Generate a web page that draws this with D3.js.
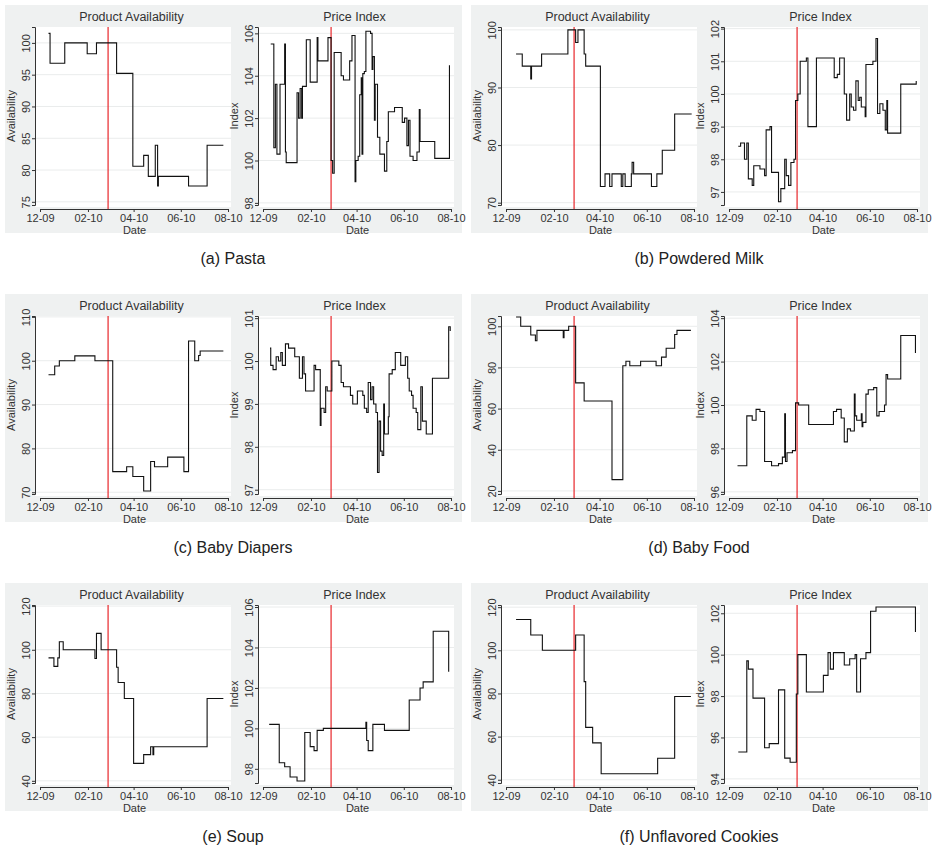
<!DOCTYPE html>
<html>
<head>
<meta charset="utf-8">
<script src="https://cdn.jsdelivr.net/npm/d3@7"></script>
<style>
body { margin:0; background:#fff; font-family:"Liberation Sans", Arial, sans-serif; }
</style>
</head>
<body>
<svg id="chart" width="932" height="850"></svg>
<script>
// days are counted from 2009-12-01
const startDate = new Date(2009, 11, 1)
const tickDays = [0, 62, 121, 182, 243]
const tickLabels = ["12-09", "02-10", "04-10", "06-10", "08-10"]
const eventDay = 88

const captions = ["(a)  Pasta", "(b)  Powdered Milk", "(c)  Baby Diapers", "(d)  Baby Food", "(e)  Soup", "(f)  Unflavored Cookies"]

// [day, value]
const pastaAvail = [[11,101.5],[13,96.8],[32,100],[61,98.3],[73,100],[99,95.2],[120,80.6],[134,82.3],[140,79],[149,83.9],[152,77.5],[153,79],[192,77.5],[216,83.9],[237,83.9]]
const pastaPrice = [[10,105.5],[14,100.6],[16,103.6],[18,100.3],[21,100.3],[22,103.6],[28,105.5],[29,100.4],[30,99.9],[43,99.9],[44,103.2],[46,102],[48,103.4],[50,102],[51,103.5],[55,103.5],[56,105.7],[61,103.7],[68,103.7],[70,105.8],[71,104.7],[83,104.7],[84,105.8],[87,105.8],[88,100],[90,99.4],[92,105.1],[99,105.1],[101,104],[104,103.8],[111,103.8],[112,104.7],[115,105.9],[118,105.9],[119,99],[120,100],[123,100.2],[125,103.1],[127,103.9],[128,100.3],[129,104.1],[131,104.2],[133,106.1],[139,106],[141,104.3],[142,104.9],[144,101.9],[145,103.6],[148,101.1],[151,100.3],[156,100.3],[157,99.5],[160,100.9],[162,102.3],[167,102.3],[170,102.5],[177,102.5],[180,101.8],[183,102],[186,100.7],[188,101.9],[190,100.2],[194,100],[199,100.4],[202,102.4],[203,100.9],[220,100.9],[222,100.1],[240,100.1],[241,104.5]]

const milkAvail = [[13,95.8],[21,93.7],[32,91.5],[33,93.7],[46,95.8],[80,100],[90,97.8],[93,100],[101,95.8],[103,93.7],[122,72.8],[128,75],[134,72.8],[137,75],[149,72.8],[151,75],[154,72.8],[162,75],[163,77],[165,75],[188,72.8],[195,75],[202,79.1],[218,85.4],[240,85.4]]
const milkPrice = [[12,98.4],[15,98.5],[20,98],[23,98.5],[25,97.4],[30,97.2],[32,97.8],[40,97.7],[46,97.5],[48,98.9],[53,99],[55,97.6],[64,96.7],[67,97.1],[71,97.1],[72,98],[74,97.5],[77,97.2],[80,97.9],[84,98],[86,99.8],[89,100],[92,101],[100,101.1],[102,99],[112,99],[113,101.1],[134,101.1],[136,100.5],[140,100.6],[143,101.1],[149,100],[152,99.2],[156,100],[158,99.6],[161,99.5],[164,100.4],[167,99.8],[169,99.9],[171,99.6],[176,99.3],[177,100.9],[186,101],[190,101.7],[192,99.4],[195,99.7],[199,99.5],[202,98.9],[204,99.8],[205,98.8],[222,100.3],[241,100.3],[242,100.4]]

const diapersAvail = [[11,96.8],[19,98.8],[25,100],[45,101.1],[71,100],[94,74.7],[112,75.8],[120,73.6],[134,70.3],[143,77],[148,75.8],[165,78],[186,74.7],[192,104.5],[200,100],[205,101.2],[207,102.2],[237,102.2]]
const diapersPrice = [[9,100.3],[10,99.9],[13,99.8],[17,100.1],[20,100],[23,100.2],[25,99.9],[29,100.4],[33,100.3],[39,100.3],[41,100.1],[44,100.1],[47,99.6],[51,100.1],[53,99.7],[55,99.3],[65,99.3],[66,99.9],[68,99.8],[73,99.8],[74,98.5],[75,98.9],[79,98.8],[81,99.4],[83,99.3],[87,99.3],[89,100],[94,100],[98,99.9],[101,99.5],[104,99.4],[110,99.4],[113,99.2],[116,99],[120,99],[122,99.3],[129,99.2],[131,98.9],[134,98.8],[136,99.5],[139,99.1],[141,99.4],[143,99],[146,98.8],[148,97.4],[150,98.6],[152,97.9],[154,97.8],[156,99],[157,98.3],[162,98.7],[163,99.7],[167,99.8],[171,100.2],[177,100.2],[178,99.9],[181,99.9],[184,100.1],[187,99.6],[189,99.3],[192,99.2],[194,98.9],[198,98.8],[200,98.4],[204,99.4],[206,98.6],[211,98.3],[219,99.6],[240,100.8],[242,100.7]]

const babyFoodAvail = [[13,104.5],[19,100],[32,95.8],[38,93],[40,98],[73,98],[74,94.5],[75,98],[81,100],[90,72.5],[101,63.7],[137,25.5],[151,80.8],[155,83],[160,80.8],[174,83],[194,80.8],[201,85],[207,89.3],[218,96],[221,98],[239,98]]
const babyFoodPrice = [[11,97.2],[23,99.5],[30,99.3],[35,99.8],[40,99.7],[46,97.4],[55,97.2],[64,97.3],[69,97.6],[72,99.6],[73,97.4],[75,97.8],[82,97.9],[86,100.1],[90,100],[103,99.1],[134,99.1],[135,99.7],[139,99.8],[145,99.4],[149,98.3],[153,98.9],[157,98.8],[162,100.5],[163,99.5],[165,99.3],[171,99.6],[172,99],[173,99.2],[177,100.5],[180,100.7],[187,100.8],[191,99.5],[194,99.7],[201,100],[203,101.4],[205,101.2],[222,103.2],[240,103.2],[241,102.4]]

const soupAvail = [[11,96.3],[18,92.4],[23,96.3],[25,103.7],[30,100],[71,96],[73,107.5],[79,100],[99,92],[101,85],[109,77.7],[121,48],[134,52],[143,55.6],[146,52],[147,55.6],[216,77.7],[237,77.7]]
const soupPrice = [[8,100.2],[21,98.3],[28,98.1],[35,97.6],[44,97.4],[54,99.8],[61,99.1],[66,98.9],[70,99.9],[78,100],[133,100.3],[134,99.4],[136,98.9],[142,100.2],[157,99.9],[189,101.4],[203,102],[207,102.3],[220,104.8],[239,104.8],[240,102.8]]

const cookiesAvail = [[13,114.3],[32,107.1],[47,100],[90,107.1],[101,85.5],[103,64.3],[112,57.1],[123,42.8],[196,50],[218,78.6],[239,78.6]]
const cookiesPrice = [[12,95.3],[23,99.7],[25,99.3],[31,97.9],[46,95.5],[52,95.7],[64,98.3],[72,95],[79,94.8],[87,98.1],[89,100],[100,98.2],[122,99],[128,100.1],[131,99.3],[135,100.1],[149,99.5],[156,99.8],[163,100],[165,98.2],[170,99.8],[177,100.1],[183,102.1],[190,102.3],[240,102.3],[241,101.1]]

const availSeries = [pastaAvail, milkAvail, diapersAvail, babyFoodAvail, soupAvail, cookiesAvail]
const priceSeries = [pastaPrice, milkPrice, diapersPrice, babyFoodPrice, soupPrice, cookiesPrice]
const availDomains = [[74.5,102.5],[69.6,100.5],[69.6,110.2],[18.5,105],[39,120.5],[38.5,121]]
const priceDomains = [[97.9,106.3],[96.6,102.05],[96.9,101.05],[95.9,104.1],[97.3,106.1],[93.8,102.4]]
const availTicks = [[75,80,85,90,95,100],[70,80,90,100],[70,80,90,100,110],[20,40,60,80,100],[40,60,80,100,120],[40,60,80,100,120]]
const priceTicks = [[98,100,102,104,106],[97,98,99,100,101,102],[97,98,99,100,101],[96,98,100,102,104],[98,100,102,104,106],[94,96,98,100,102]]

const svg = d3.select("#chart")
const panelPos = [[5,5],[471,5],[5,294],[471,294],[5,583],[471,583]]
const dayDate = d => d3.timeDay.offset(startDate, d)
const txt = "#333"

function drawPlot(g, left, data, domain, ticks, title, ylab) {
  const w = 193, top = 22, bottom = 200
  const x = d3.scaleTime().domain([dayDate(0), dayDate(243)]).range([left + 5, left + w])
  const y = d3.scaleLinear().domain(domain).range([bottom, top])

  g.append("rect").attr("x", left).attr("y", top).attr("width", w + 3).attr("height", bottom - top + 2).attr("fill", "#fff")

  g.selectAll(null).data(ticks).join("line")
    .attr("x1", left).attr("x2", left + w + 3)
    .attr("y1", d => y(d)).attr("y2", d => y(d))
    .attr("stroke", "#eaecec").attr("stroke-width", 1)

  const ya = g.append("g").attr("transform", `translate(${left},0)`)
    .call(d3.axisLeft(y).tickValues(ticks).tickFormat(d3.format("d")).tickSize(3).tickPadding(2))
  ya.select(".domain").attr("stroke", txt)
  ya.selectAll(".tick line").attr("stroke", txt)
  ya.selectAll(".tick text")
    .attr("transform", "rotate(-90, -5, 0)")
    .attr("x", -5).attr("dy", "0").attr("text-anchor", "middle")
    .style("font-size", "11px").style("fill", txt).style("font-family", "Liberation Sans, Arial, sans-serif")

  const xa = g.append("g").attr("transform", `translate(0,${bottom + 4})`)
    .call(d3.axisBottom(x).tickValues(tickDays.map(dayDate)).tickFormat((d, i) => tickLabels[i]).tickSize(3).tickPadding(2))
  xa.select(".domain").attr("stroke", txt)
  xa.selectAll(".tick line").attr("stroke", txt)
  xa.selectAll(".tick text").style("font-size", "11px").style("fill", txt).style("font-family", "Liberation Sans, Arial, sans-serif")

  g.append("line")
    .attr("x1", x(dayDate(eventDay))).attr("x2", x(dayDate(eventDay)))
    .attr("y1", top).attr("y2", bottom + 4)
    .attr("stroke", "#e8262a").attr("stroke-width", 1.2)

  g.append("path").datum(data)
    .attr("fill", "none").attr("stroke", "#111").attr("stroke-width", 1.1)
    .attr("d", d3.line().curve(d3.curveStepAfter).x(d => x(dayDate(d[0]))).y(d => y(d[1])))

  g.append("text").attr("x", left + w / 2).attr("y", 16).attr("text-anchor", "middle")
    .style("font-size", "12.5px").style("fill", txt).text(title)
  g.append("text").attr("x", left + w / 2 + 3).attr("y", 229).attr("text-anchor", "middle")
    .style("font-size", "11px").style("fill", txt).text("Date")
  g.append("text").attr("transform", `translate(${left - 20},${(top + bottom) / 2}) rotate(-90)`)
    .attr("text-anchor", "middle").style("font-size", "11px").style("fill", txt).text(ylab)
}

panelPos.forEach((p, i) => {
  const g = svg.append("g").attr("transform", `translate(${p[0]},${p[1]})`)
  g.append("rect").attr("width", 457).attr("height", 228).attr("fill", "#eff1f1")
  drawPlot(g, 30, availSeries[i], availDomains[i], availTicks[i], "Product Availability", "Availability")
  drawPlot(g, 253, priceSeries[i], priceDomains[i], priceTicks[i], "Price Index", "Index")
  g.append("text").attr("x", 228).attr("y", 259).attr("text-anchor", "middle")
    .style("font-size", "16px").style("fill", "#222").text(captions[i])
})
</script>
</body>
</html>
